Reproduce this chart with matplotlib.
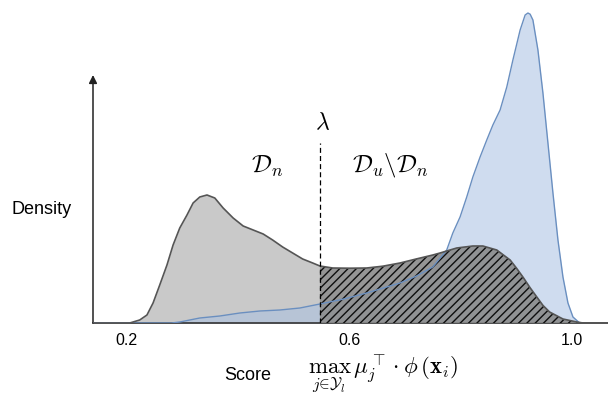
import matplotlib

matplotlib.use("Agg")
import matplotlib.pyplot as plt

plt.rcParams.update(
    {
        "font.family": ["Liberation Sans", "DejaVu Sans"],
        "mathtext.fontset": "cm",
        "hatch.linewidth": 1.0,
    }
)

# Kernel density estimates of the max-similarity score, read off at a set of
# score values (density in arbitrary units).
GRAY_SCORE = [0.139, 0.205, 0.223, 0.236, 0.247, 0.259, 0.272, 0.283, 0.295,
              0.308, 0.319, 0.331, 0.344, 0.358, 0.373, 0.391, 0.409, 0.427,
              0.445, 0.462, 0.480, 0.498, 0.516, 0.534, 0.547, 0.570, 0.600,
              0.631, 0.660, 0.691, 0.720, 0.750, 0.763, 0.793, 0.822, 0.840,
              0.865, 0.889, 0.900, 0.912, 0.925, 0.937, 0.948, 0.960, 0.984,
              1.009, 1.020]
GRAY_DENS = [0.0, 0.0, 0.075, 0.2, 0.5, 0.95, 1.45, 1.95, 2.375,
             2.7, 3.0, 3.15, 3.2, 3.125, 2.875, 2.625, 2.425, 2.325,
             2.225, 2.075, 1.9, 1.75, 1.6, 1.5, 1.425, 1.375, 1.37,
             1.375, 1.42, 1.5, 1.6, 1.7, 1.75, 1.875, 1.925, 1.925,
             1.825, 1.575, 1.38, 1.15, 0.88, 0.65, 0.44, 0.275, 0.1,
             0.025, 0.0]

BLUE_SCORE = [0.139, 0.280, 0.295, 0.331, 0.367, 0.403, 0.439, 0.475, 0.511,
              0.547, 0.590, 0.631, 0.691, 0.720, 0.750, 0.775, 0.786, 0.799,
              0.811, 0.822, 0.835, 0.847, 0.858, 0.871, 0.883, 0.894, 0.907,
              0.916, 0.921, 0.925, 0.930, 0.939, 0.948, 0.957, 0.966, 0.975,
              0.984, 0.993, 1.002, 1.014]
BLUE_DENS = [0.0, 0.0, 0.025, 0.125, 0.175, 0.25, 0.3, 0.325, 0.375,
             0.475, 0.6, 0.75, 1.0, 1.17, 1.4, 1.825, 2.25, 2.65,
             3.15, 3.65, 4.15, 4.575, 4.95, 5.325, 5.9, 6.575, 7.325,
             7.7, 7.75, 7.72, 7.575, 6.825, 5.75, 4.5, 3.25, 2.075,
             1.15, 0.5, 0.15, 0.0]

LAMBDA = 0.547
TICKS = [0.2, 0.6, 1.0]
TICK_LABELS = ["0.2", "0.6", "1.0"]

fig = plt.figure(figsize=(6.08, 3.95), dpi=100)
ax = fig.add_axes([93 / 608, 72 / 395, 515 / 608, 323 / 395])
ax.set_xlim(0.139, 1.065)
ax.set_ylim(0, 8.075)

# left part of the in-distribution density: plain gray
left = [i for i, s in enumerate(GRAY_SCORE) if s <= LAMBDA]
right = [i for i, s in enumerate(GRAY_SCORE) if s >= LAMBDA]
ax.fill_between([GRAY_SCORE[i] for i in left], [GRAY_DENS[i] for i in left],
                color="#c9c9c9", lw=0, zorder=1)

# unlabeled density, light blue
ax.fill_between(BLUE_SCORE, BLUE_DENS, color="#a9c0e2", alpha=0.55, lw=0,
                zorder=2)

# part above the threshold: hatched
ax.fill_between([GRAY_SCORE[i] for i in right], [GRAY_DENS[i] for i in right],
                facecolor="#8a8a8a", edgecolor="black", hatch="////", lw=0,
                alpha=0.9, zorder=3)

ax.plot(BLUE_SCORE, BLUE_DENS, color="#6a8fc0", lw=1.0, zorder=4,
        solid_joinstyle="round")
ax.plot(GRAY_SCORE, GRAY_DENS, color="#555555", lw=1.2, zorder=5,
        solid_joinstyle="round")

# threshold
ax.vlines(LAMBDA, 0, 4.5, colors="black", linestyles=(0, (4, 2.5)), lw=0.9,
          zorder=6)
ax.text(LAMBDA + 0.004, 5.0, r"$\lambda$", fontsize=17, ha="center",
        va="center")
ax.text(0.452, 3.92, r"$\mathcal{D}_n$", fontsize=18, ha="center",
        va="center")
ax.text(0.673, 3.95, r"$\mathcal{D}_u\backslash\mathcal{D}_n$", fontsize=18,
        ha="center", va="center")

# axes: bottom line plus an arrow for the density axis
for side in ("top", "right", "left"):
    ax.spines[side].set_visible(False)
ax.spines["bottom"].set_color("#333333")
ax.spines["bottom"].set_linewidth(1.2)
ax.annotate("", xy=(0.139, 6.2), xytext=(0.139, 0),
            arrowprops=dict(arrowstyle="-|>", color="#222222", lw=1.1,
                            mutation_scale=12, shrinkA=0, shrinkB=0),
            annotation_clip=False)

ax.set_xticks(TICKS)
ax.set_xticklabels(TICK_LABELS)
ax.set_yticks([])
ax.tick_params(axis="x", length=0, pad=7, labelsize=11.5)

fig.text(42 / 608, 1 - 210 / 395, "Density", fontsize=13, ha="center",
         va="center")
fig.text(248 / 608, 1 - 376 / 395, "Score", fontsize=13, ha="center",
         va="center")
fig.text(383 / 608, 1 - 374 / 395,
         r"$\max_{j\in\mathcal{Y}_l}\,\mu_j^\top\cdot\phi\,(\mathbf{x}_i)$",
         fontsize=16.5, ha="center", va="center")

fig.savefig("out.png", dpi=100)
